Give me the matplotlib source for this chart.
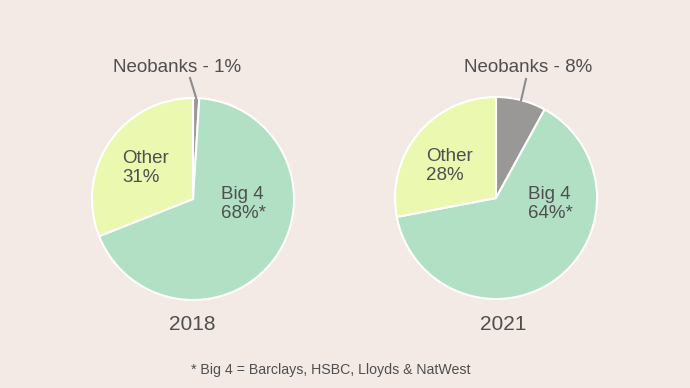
import matplotlib.pyplot as plt
import numpy as np

plt.rcParams['font.family'] = ['Liberation Sans', 'DejaVu Sans']

# market share, slices go clockwise from the top
segments = ['Neobanks', 'Big 4', 'Other']
share_2018 = [1, 68, 31]
share_2021 = [8, 64, 28]
years = ['2018', '2021']
colors = ['#9a9896', '#b1e0c4', '#eaf8b0']
bg = '#f3e9e5'
txt = '#4f4f4f'

fig = plt.figure(figsize=(6.9, 3.88), dpi=100, facecolor=bg)
ax = fig.add_axes([0, 0, 1, 1])
ax.set_facecolor(bg)

H = 388
R = 101
pies = [
    (share_2018, (193, H - 199)),
    (share_2021, (496, H - 198)),
]

for vals, c in pies:
    ax.pie(vals, colors=colors, startangle=90, counterclock=False,
           center=c, radius=R, frame=True,
           wedgeprops=dict(edgecolor='white', linewidth=1.5))

# neobanks leader lines and labels
lab_pos = [(177, H - 67), (528, H - 67)]
line_end = [(190, H - 78), (526, H - 79)]
for (vals, c), (lx, ly), (ex, ey) in zip(pies, lab_pos, line_end):
    ang = np.deg2rad(90 - vals[0] / 100 * 360 / 2)
    x0, y0 = c[0] + R * np.cos(ang), c[1] + R * np.sin(ang)
    ax.plot([x0, ex], [y0, ey], color='#8c8c8c', lw=1.5)
    ax.text(lx, ly, 'Neobanks - %d%%' % vals[0], ha='center', va='center',
            fontsize=13.5, color=txt)

ls = 1.12
ax.text(122, H - 168, 'Other\n%d%%' % share_2018[2], ha='left', va='center',
        fontsize=13.5, color=txt, linespacing=ls)
ax.text(221, H - 204, 'Big 4\n%d%%*' % share_2018[1], ha='left', va='center',
        fontsize=13.5, color=txt, linespacing=ls)
ax.text(426, H - 166, 'Other\n%d%%' % share_2021[2], ha='left', va='center',
        fontsize=13.5, color=txt, linespacing=ls)
ax.text(528, H - 204, 'Big 4\n%d%%*' % share_2021[1], ha='left', va='center',
        fontsize=13.5, color=txt, linespacing=ls)

ax.text(192, H - 324, years[0], ha='center', va='center', fontsize=15, color=txt)
ax.text(503, H - 324, years[1], ha='center', va='center', fontsize=15, color=txt)

ax.text(331, H - 370, '* Big 4 = Barclays, HSBC, Lloyds & NatWest',
        ha='center', va='center', fontsize=10.2, color=txt)

ax.set_xlim(0, 690)
ax.set_ylim(0, H)
ax.set_aspect('equal')
ax.axis('off')

fig.savefig('out.png', dpi=100, facecolor=bg)
